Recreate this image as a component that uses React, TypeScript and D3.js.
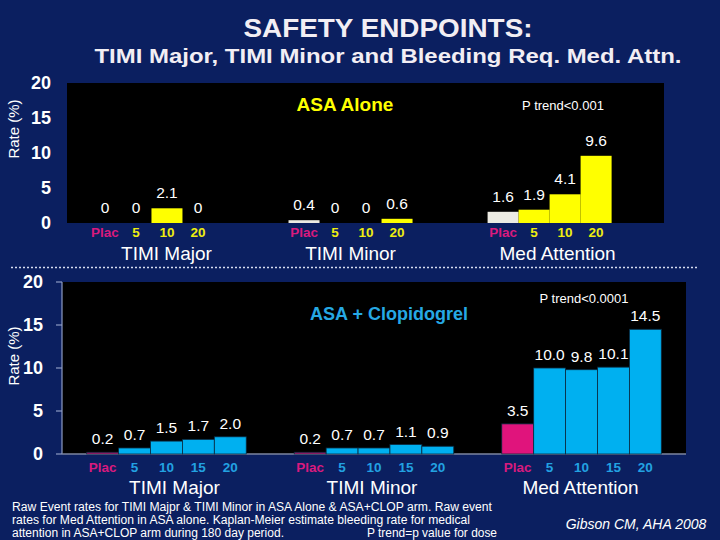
import { useRef, useEffect } from "react";
import * as d3 from "d3";

// endpoints shared by both panels
const groups = ["TIMI Major", "TIMI Minor", "Med Attention"];

// ASA alone arm
const asaDoses = ["Plac", "5", "10", "20"];
const asaMajor = [0, 0, 2.1, 0];
const asaMinor = [0.4, 0, 0, 0.6];
const asaMedAttn = [1.6, 1.9, 4.1, 9.6];

// ASA + clopidogrel arm
const clopDoses = ["Plac", "5", "10", "15", "20"];
const clopMajor = [0.2, 0.7, 1.5, 1.7, 2.0];
const clopMinor = [0.2, 0.7, 0.7, 1.1, 0.9];
const clopMedAttn = [3.5, 10.0, 9.8, 10.1, 14.5];

const yTicks = [0, 5, 10, 15, 20];

const footnote = [
  "Raw Event rates for TIMI Majpr & TIMI Minor in ASA Alone & ASA+CLOP arm. Raw event",
  "rates for Med Attention in ASA alone. Kaplan-Meier estimate bleeding rate for medical",
  "attention in ASA+CLOP arm during 180 day period.",
];

const W = 720;
const H = 540;
const FONT = "'Liberation Sans', Arial, sans-serif";
const NAVY = "#0b1f60";
const MAGENTA = "#d91a7e";

interface Panel {
  doses: string[];
  rates: number[][];
  plot: { left: number; right: number; top: number; bottom: number };
  band: { inner: number; outer: number; align: number };
  placFill: string;
  doseFill: string;
  doseText: string;
  labelGap: number;
  tickY: number;
  groupY: number;
  groupNudge: number[];
  tickLabelX: number;
  axis: boolean;
  zeroAsInt: boolean;
}

const fmt = (v: number, zeroAsInt: boolean) =>
  zeroAsInt && v === 0 ? "0" : v.toFixed(1);

function drawPanel(svg: d3.Selection<SVGSVGElement, unknown, null, undefined>, p: Panel) {
  const g = svg.append("g");
  const { left, right, top, bottom } = p.plot;

  g.append("rect")
    .attr("x", left)
    .attr("y", top)
    .attr("width", right - left)
    .attr("height", bottom - top)
    .attr("fill", "#000");

  const y = d3.scaleLinear().domain([0, 20]).range([bottom, top]);
  const gx = d3
    .scaleBand<string>()
    .domain(groups)
    .range([left, right])
    .paddingInner(p.band.inner)
    .paddingOuter(p.band.outer)
    .align(p.band.align);
  const bx = d3.scaleBand<string>().domain(p.doses).range([0, gx.bandwidth()]);

  // y tick labels
  g.selectAll(".ytick")
    .data(yTicks)
    .enter()
    .append("text")
    .attr("x", p.tickLabelX)
    .attr("y", (d) => y(d))
    .attr("dy", "0.36em")
    .attr("text-anchor", "end")
    .attr("fill", "#fff")
    .style("font-family", FONT)
    .style("font-size", "18px")
    .style("font-weight", "bold")
    .text((d) => d);

  if (p.axis) {
    const axisColor = "#8e9cc4";
    g.append("line")
      .attr("x1", left)
      .attr("x2", left)
      .attr("y1", y(20))
      .attr("y2", bottom)
      .attr("stroke", axisColor)
      .attr("stroke-width", 1.2);
    g.selectAll(".ytickmark")
      .data(yTicks)
      .enter()
      .append("line")
      .attr("x1", left - 6)
      .attr("x2", left)
      .attr("y1", (d) => y(d))
      .attr("y2", (d) => y(d))
      .attr("stroke", axisColor)
      .attr("stroke-width", 1.2);
    g.append("line")
      .attr("x1", left)
      .attr("x2", right)
      .attr("y1", bottom)
      .attr("y2", bottom)
      .attr("stroke", "#7c86a0")
      .attr("stroke-width", 1.5);
  }

  groups.forEach((grp, gi) => {
    const x0 = gx(grp)!;
    const vals = p.rates[gi];

    g.selectAll(`.bar${gi}`)
      .data(vals)
      .enter()
      .append("rect")
      .attr("x", (_d, i) => x0 + bx(p.doses[i])!)
      .attr("y", (d) => y(d))
      .attr("width", bx.bandwidth())
      .attr("height", (d) => bottom - y(d))
      .attr("fill", (_d, i) => (i === 0 ? p.placFill : p.doseFill))
      .attr("stroke", p.axis ? "#0a2a40" : "none")
      .attr("stroke-width", p.axis ? 0.8 : 0);

    g.selectAll(`.val${gi}`)
      .data(vals)
      .enter()
      .append("text")
      .attr("x", (_d, i) => x0 + bx(p.doses[i])! + bx.bandwidth() / 2)
      .attr("y", (d) => y(d) - p.labelGap)
      .attr("text-anchor", "middle")
      .attr("fill", "#fff")
      .style("font-family", FONT)
      .style("font-size", "15.5px")
      .text((d) => fmt(d, p.zeroAsInt));

    g.selectAll(`.dose${gi}`)
      .data(p.doses)
      .enter()
      .append("text")
      .attr("x", (d) => x0 + bx(d)! + bx.bandwidth() / 2)
      .attr("y", p.tickY)
      .attr("text-anchor", "middle")
      .attr("fill", (_d, i) => (i === 0 ? MAGENTA : p.doseText))
      .style("font-family", FONT)
      .style("font-size", "13.5px")
      .style("font-weight", "bold")
      .text((d) => d);

    g.append("text")
      .attr("x", x0 + gx.bandwidth() / 2 + p.groupNudge[gi])
      .attr("y", p.groupY)
      .attr("text-anchor", "middle")
      .attr("fill", "#fff")
      .style("font-family", FONT)
      .style("font-size", "19px")
      .text(grp);
  });
}

const App = () => {
  const ref = useRef<SVGSVGElement>(null);

  useEffect(() => {
    if (!ref.current) return;
    const svg = d3.select(ref.current);

    svg.append("rect").attr("width", W).attr("height", H).attr("fill", NAVY);

    const addText = (
      txt: string,
      x: number,
      yy: number,
      size: number,
      opts: { anchor?: string; weight?: string; fill?: string; style?: string; len?: number; rotate?: boolean } = {}
    ) => {
      const t = svg
        .append("text")
        .attr("x", opts.rotate ? 0 : x)
        .attr("y", opts.rotate ? 0 : yy)
        .attr("text-anchor", opts.anchor ?? "start")
        .attr("fill", opts.fill ?? "#fff")
        .style("font-family", FONT)
        .style("font-size", `${size}px`)
        .style("font-weight", opts.weight ?? "normal")
        .style("font-style", opts.style ?? "normal")
        .text(txt);
      if (opts.len) t.attr("textLength", opts.len).attr("lengthAdjust", "spacingAndGlyphs");
      if (opts.rotate) t.attr("transform", `translate(${x},${yy}) rotate(-90)`);
      return t;
    };

    // titles
    addText("SAFETY ENDPOINTS:", 388, 37, 26, { anchor: "middle", weight: "bold", fill: "#f2eef4", len: 289 });
    addText("TIMI Major, TIMI Minor and Bleeding Req. Med. Attn.", 388, 63, 21, {
      anchor: "middle",
      weight: "bold",
      fill: "#f2eef4",
      len: 587,
    });

    drawPanel(svg, {
      doses: asaDoses,
      rates: [asaMajor, asaMinor, asaMedAttn],
      plot: { left: 67, right: 664, top: 83, bottom: 223 },
      band: { inner: 0.377, outer: 0.188, align: 0.3 },
      placFill: "#ecebe3",
      doseFill: "#ffff00",
      doseText: "#eeee10",
      labelGap: 10,
      tickY: 237,
      groupY: 260,
      groupNudge: [15, 0, 8],
      tickLabelX: 51,
      axis: false,
      zeroAsInt: true,
    });

    drawPanel(svg, {
      doses: clopDoses,
      rates: [clopMajor, clopMinor, clopMedAttn],
      plot: { left: 62, right: 686, top: 282, bottom: 454 },
      band: { inner: 0.2313, outer: 0.119, align: 0.5 },
      placFill: "#e0147c",
      doseFill: "#00b0f0",
      doseText: "#22a2e2",
      labelGap: 8,
      tickY: 472,
      groupY: 494,
      groupNudge: [8, -2, -1],
      tickLabelX: 43,
      axis: true,
      zeroAsInt: false,
    });

    // panel headings
    addText("ASA  Alone", 345, 111, 19, { anchor: "middle", weight: "bold", fill: "#ffff00" });
    addText("P trend<0.001", 563, 110, 13, { anchor: "middle" });
    addText("ASA + Clopidogrel", 389, 320, 18, { anchor: "middle", weight: "bold", fill: "#26a8e4" });
    addText("P trend<0.0001", 584, 303, 13, { anchor: "middle" });

    // y titles
    addText("Rate (%)", 19, 129, 15, { anchor: "middle", rotate: true });
    addText("Rate (%)", 19, 356, 15, { anchor: "middle", rotate: true });

    // divider
    svg
      .append("line")
      .attr("x1", 11)
      .attr("x2", 698)
      .attr("y1", 267.5)
      .attr("y2", 267.5)
      .attr("stroke", "#d6dcf0")
      .attr("stroke-width", 1.5)
      .attr("stroke-dasharray", "2,2");

    // footnote
    const lens = [480, 458, 272];
    footnote.forEach((line, i) => {
      addText(line, 12, 511 + i * 13, 12, { len: lens[i] });
    });
    addText("P trend=p value for dose", 367, 537, 12, { len: 130 });
    addText("Gibson CM, AHA 2008", 636, 529, 14, { anchor: "middle", style: "italic" });

    return () => {
      svg.selectAll("*").remove();
    };
  }, []);

  return (
    <svg
      ref={ref}
      width={W}
      height={H}
      style={{ position: "absolute", left: 0, top: 0, display: "block" }}
    />
  );
};

export default App;
